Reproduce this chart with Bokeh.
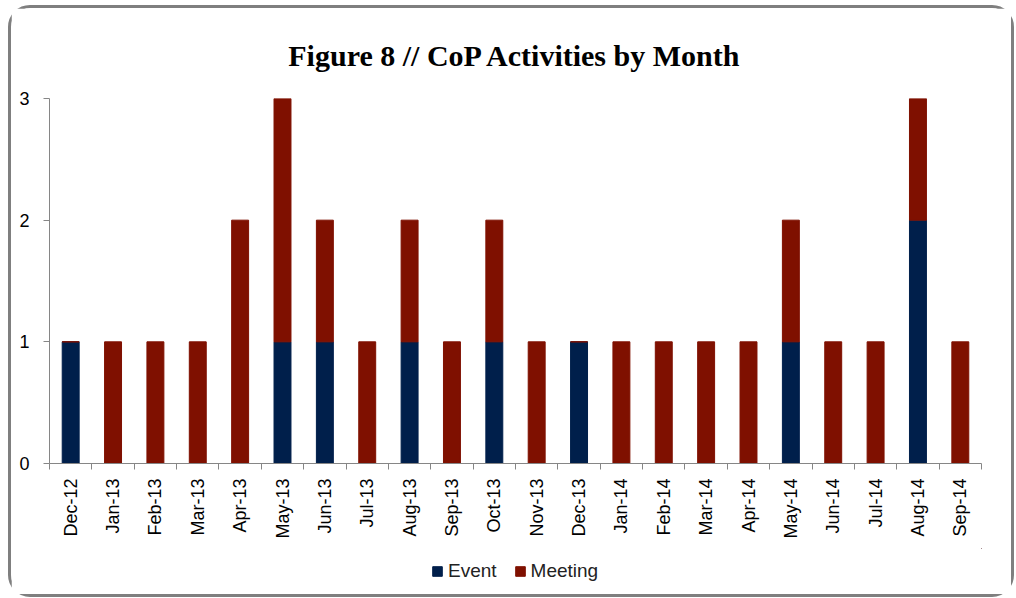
import numpy as np
from bokeh.plotting import figure
from bokeh.layouts import column
from bokeh.models import Range1d, FixedTicker, Legend, LegendItem, ColumnDataSource
from bokeh.embed import file_html
from bokeh.resources import INLINE

months = ["Dec-12", "Jan-13", "Feb-13", "Mar-13", "Apr-13", "May-13", "Jun-13", "Jul-13",
          "Aug-13", "Sep-13", "Oct-13", "Nov-13", "Dec-13", "Jan-14", "Feb-14", "Mar-14",
          "Apr-14", "May-14", "Jun-14", "Jul-14", "Aug-14", "Sep-14"]
event = [1, 0, 0, 0, 0, 1, 1, 0, 1, 0, 1, 0, 1, 0, 0, 0, 0, 1, 0, 0, 2, 0]
meeting = [0, 1, 1, 1, 2, 2, 1, 1, 1, 1, 1, 1, 0, 1, 1, 1, 1, 1, 1, 1, 1, 1]
series = ["Event", "Meeting"]
colors = ["#001f4b", "#7f1000"]
y_ticks = [0, 1, 2, 3]

n = len(months)
xc = np.arange(n) + 0.5
ev = np.array(event, dtype=float)
mt = np.array(meeting, dtype=float)
src = ColumnDataSource(dict(x=xc, ev0=np.zeros(n), ev1=ev, mt0=ev, mt1=ev + mt))

p = figure(width=1000, height=540, output_backend="svg", toolbar_location=None,
           x_range=Range1d(0, n), y_range=Range1d(0, 3),
           title="Figure 8 // CoP Activities by Month",
           min_border_left=38, min_border_right=30, min_border_top=90, min_border_bottom=85)

p.title.text_font = "Liberation Serif"
p.title.text_font_size = "30px"
p.title.text_font_style = "bold"
p.title.align = "center"
p.title.text_color = "#000000"
p.title.standoff = 54

p.vbar(x="x", bottom="ev0", top="ev1", width=0.4, source=src,
       fill_color=colors[0], line_color=colors[0])
p.vbar(x="x", bottom="mt0", top="mt1", width=0.4, source=src,
       fill_color=colors[1], line_color=colors[1])

p.xgrid.visible = False
p.ygrid.visible = False
p.outline_line_color = None

ax = p.xaxis[0]
ax.ticker = FixedTicker(ticks=list(xc), minor_ticks=list(range(n + 1)))
ax.major_label_overrides = {float(x): m for x, m in zip(xc, months)}
ax.major_label_orientation = np.pi / 2
ax.major_tick_out = 0
ax.major_tick_in = 0
ax.minor_tick_out = 6
ax.minor_tick_in = 0
ax.minor_tick_line_color = "#868686"
ax.axis_line_color = "#868686"
ax.major_label_text_font = "Liberation Sans"
ax.major_label_text_font_size = "18px"
ax.major_label_text_color = "#000000"
ax.major_label_standoff = 9

ay = p.yaxis[0]
ay.ticker = FixedTicker(ticks=y_ticks)
ay.minor_tick_line_color = None
ay.major_tick_out = 6
ay.major_tick_in = 0
ay.major_tick_line_color = "#868686"
ay.axis_line_color = "#868686"
ay.major_label_text_font = "Liberation Sans"
ay.major_label_text_font_size = "18px"
ay.major_label_text_color = "#000000"
ay.major_label_standoff = 14

# legend strip below the chart (swatch renderers sit outside the visible range)
leg = figure(width=1000, height=46, output_backend="svg", toolbar_location=None,
             x_range=Range1d(0, 1), y_range=Range1d(0, 1),
             x_axis_type=None, y_axis_type=None,
             min_border_left=0, min_border_right=0, min_border_top=0, min_border_bottom=0)
leg.outline_line_color = None
leg.xgrid.visible = False
leg.ygrid.visible = False
g1 = leg.vbar(x=[5], bottom=[5], top=[6], width=0.1, fill_color=colors[0], line_color=colors[0])
g2 = leg.vbar(x=[5], bottom=[5], top=[6], width=0.1, fill_color=colors[1], line_color=colors[1])
legend = Legend(items=[LegendItem(label=series[0], renderers=[g1]),
                       LegendItem(label=series[1], renderers=[g2])],
                orientation="horizontal", location=(382, 12),
                label_text_font="Liberation Sans", label_text_font_size="19px",
                label_text_color="#222222",
                glyph_width=12, glyph_height=12, spacing=17, padding=4, margin=0,
                border_line_color=None, background_fill_alpha=0, label_standoff=5)
leg.add_layout(legend, "center")

layout = column(p, leg, spacing=0,
                styles={"border": "3px solid #7f7f7f", "border-radius": "22px",
                        "margin-left": "8px", "margin-top": "5px"})

open("out.html", "w").write(file_html(layout, INLINE))
